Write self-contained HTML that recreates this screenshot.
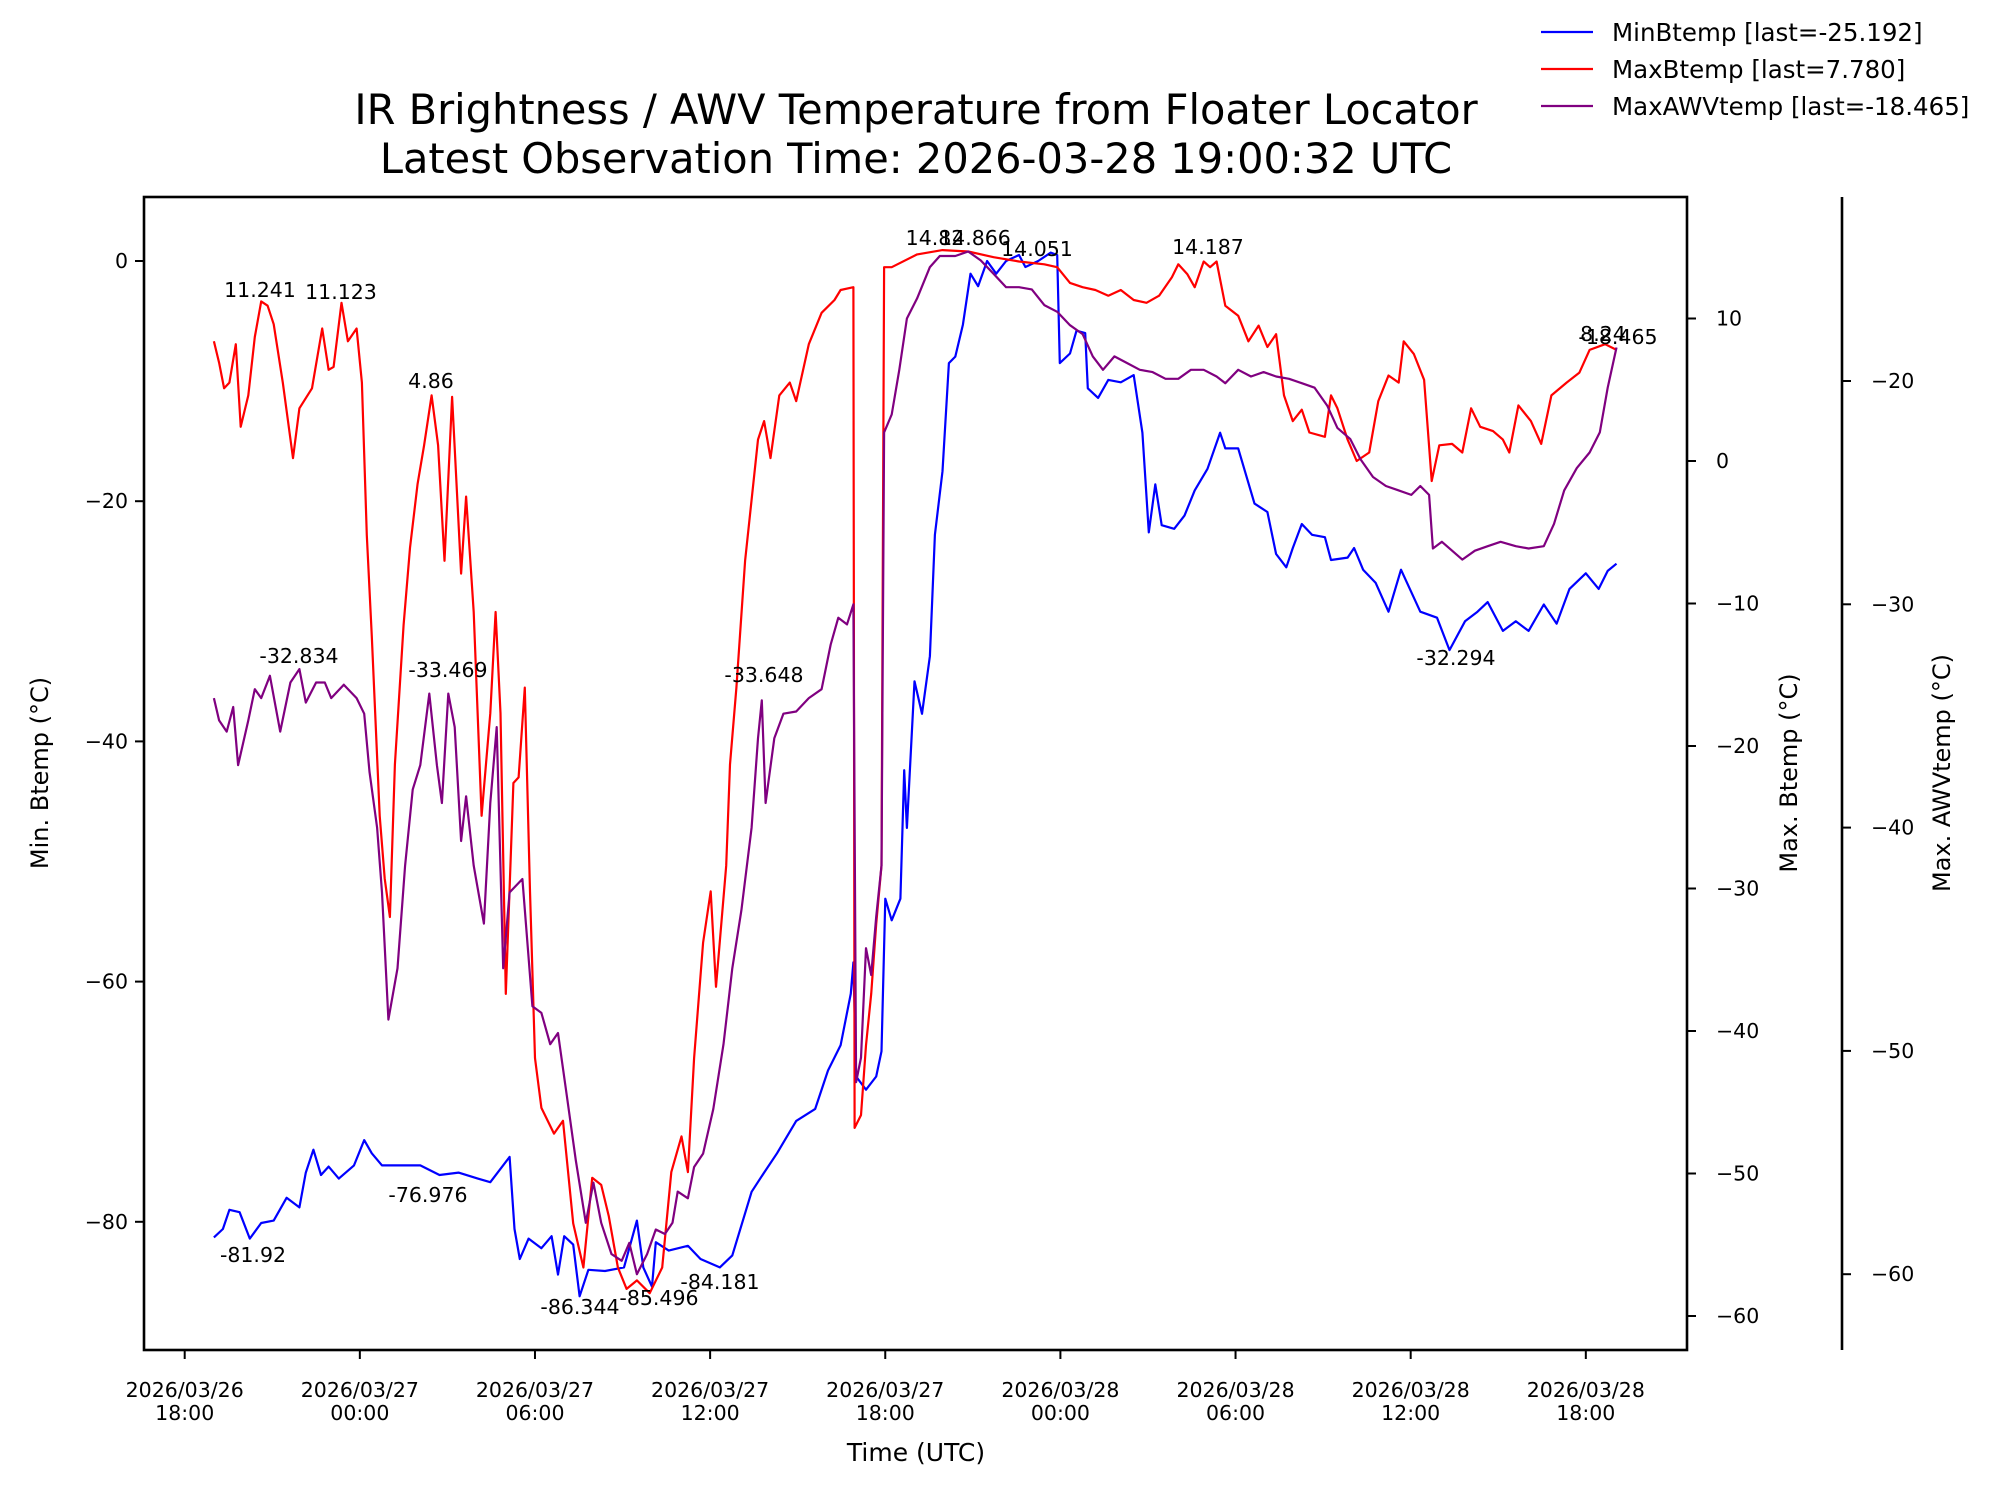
<!DOCTYPE html>
<html><head><meta charset="utf-8"><style>
body{margin:0;background:#fff}
svg{display:block;font-family:"DejaVu Sans","Liberation Sans",sans-serif}
</style></head><body>
<svg id="chart" width="1998" height="1495" viewBox="0 0 1998 1495" xmlns="http://www.w3.org/2000/svg">
<rect width="1998" height="1495" fill="#fff"/>
<text x="916" y="124" font-size="41.5" text-anchor="middle">IR Brightness / AWV Temperature from Floater Locator</text>
<text x="916" y="173" font-size="41.5" text-anchor="middle">Latest Observation Time: 2026-03-28 19:00:32 UTC</text>
<g id="plot"></g>
</svg>
<script>
// hours since 2026-03-26 18:00 UTC
const minHours=[1.0,1.31,1.53,1.88,2.23,2.62,3.05,3.49,3.93,4.15,4.41,4.67,4.93,5.28,5.8,6.15,6.41,6.76,7.42,8.07,8.73,9.38,10.04,10.47,11.13,11.3,11.48,11.78,12.22,12.57,12.79,13.0,13.31,13.53,13.83,14.4,15.05,15.49,15.71,16.01,16.14,16.58,17.24,17.67,18.33,18.76,19.42,19.85,20.29,20.95,21.6,22.04,22.47,22.82,22.91,23.0,23.34,23.69,23.87,24.0,24.22,24.52,24.65,24.74,25.0,25.26,25.53,25.7,25.96,26.18,26.4,26.66,26.92,27.18,27.49,27.8,28.14,28.58,28.8,29.24,29.67,29.89,29.98,30.33,30.55,30.85,30.94,31.29,31.64,32.07,32.51,32.81,33.03,33.25,33.47,33.9,34.25,34.6,35.04,35.47,35.65,36.09,36.65,37.09,37.39,37.74,37.96,38.27,38.62,39.06,39.27,39.84,40.06,40.37,40.8,41.24,41.67,42.33,42.9,43.33,43.86,44.29,44.64,45.16,45.6,46.04,46.56,47.0,47.44,48.0,48.44,48.75,49.05];
const minValues=[-81.3,-80.6,-79.0,-79.2,-81.4,-80.1,-79.9,-78.0,-78.8,-75.9,-74.0,-76.1,-75.4,-76.4,-75.3,-73.2,-74.3,-75.3,-75.3,-75.3,-76.1,-75.9,-76.4,-76.7,-74.6,-80.6,-83.1,-81.4,-82.2,-81.2,-84.4,-81.2,-81.9,-86.2,-84.0,-84.1,-83.8,-79.9,-83.8,-85.4,-81.7,-82.4,-82.0,-83.1,-83.8,-82.8,-77.5,-75.9,-74.3,-71.6,-70.6,-67.4,-65.3,-61.0,-58.4,-67.9,-69.0,-67.9,-65.8,-53.1,-54.9,-53.1,-42.4,-47.2,-35.0,-37.7,-32.9,-22.8,-17.5,-8.5,-7.96,-5.3,-1.06,-2.1,0,-1.06,0,0.5,-0.5,0,0.7,0.5,-8.5,-7.7,-5.8,-6.0,-10.6,-11.4,-9.9,-10.1,-9.5,-14.3,-22.6,-18.6,-22.0,-22.3,-21.2,-19.1,-17.3,-14.3,-15.6,-15.6,-20.2,-20.9,-24.4,-25.5,-23.9,-21.9,-22.8,-23.0,-24.9,-24.7,-23.9,-25.7,-26.8,-29.2,-25.7,-29.2,-29.7,-32.4,-30.0,-29.2,-28.4,-30.8,-30.0,-30.8,-28.6,-30.2,-27.3,-26.0,-27.3,-25.8,-25.2];
const maxHours=[1.0,1.18,1.35,1.53,1.75,1.92,2.18,2.4,2.62,2.84,3.05,3.36,3.71,3.93,4.36,4.71,4.93,5.1,5.37,5.59,5.89,6.07,6.24,6.41,6.68,6.85,7.03,7.2,7.5,7.72,7.98,8.2,8.46,8.68,8.9,9.16,9.47,9.64,9.9,10.17,10.47,10.65,10.82,11.0,11.26,11.44,11.65,11.83,12.0,12.22,12.65,12.96,13.31,13.66,13.96,14.27,14.53,14.84,15.14,15.49,15.93,16.36,16.67,17.02,17.24,17.45,17.76,18.02,18.2,18.55,18.68,18.9,19.2,19.64,19.85,20.07,20.37,20.73,20.95,21.38,21.82,22.26,22.47,22.91,22.95,23.17,23.34,23.52,23.69,23.87,23.96,24.22,25.09,25.96,26.84,27.71,28.58,29.45,29.89,30.33,30.76,31.2,31.64,32.07,32.51,32.95,33.38,33.82,34.04,34.35,34.6,34.91,35.13,35.35,35.65,36.09,36.44,36.79,37.09,37.39,37.66,37.96,38.27,38.53,39.06,39.27,39.49,39.84,40.15,40.58,40.89,41.24,41.59,41.76,42.11,42.46,42.72,42.98,43.42,43.77,44.07,44.38,44.82,45.16,45.38,45.69,46.12,46.47,46.82,47.34,47.78,48.13,48.66,49.05];
const maxValues=[8.4,6.9,5.1,5.5,8.2,2.4,4.6,8.7,11.2,10.9,9.6,5.5,0.2,3.7,5.1,9.3,6.4,6.6,11.1,8.4,9.3,5.5,-5.2,-12.3,-24.9,-29.3,-32.0,-21.3,-11.5,-6.1,-1.6,1.1,4.6,1.1,-7.0,4.5,-7.9,-2.5,-10.6,-24.9,-17.7,-10.6,-17.7,-37.4,-22.6,-22.2,-15.9,-30.2,-41.9,-45.4,-47.2,-46.3,-53.5,-56.6,-50.3,-50.8,-53.0,-56.6,-58.1,-57.5,-58.4,-56.6,-49.9,-47.4,-49.9,-41.9,-33.8,-30.2,-36.9,-28.4,-21.3,-15.9,-7.0,1.5,2.8,0.2,4.6,5.5,4.2,8.2,10.4,11.3,12.0,12.2,-46.8,-45.9,-41.0,-37.4,-32.5,-28.4,13.6,13.6,14.5,14.8,14.7,14.3,14.0,13.8,13.6,12.5,12.2,12.0,11.6,12.0,11.3,11.1,11.6,12.9,13.8,13.1,12.2,14.0,13.6,14.0,10.9,10.2,8.4,9.5,8.0,8.9,4.6,2.8,3.6,2.0,1.7,4.6,3.7,1.5,0,0.6,4.2,6.0,5.5,8.4,7.5,5.7,-1.4,1.1,1.2,0.6,3.7,2.4,2.1,1.5,0.6,3.9,2.8,1.2,4.6,5.5,6.2,7.8,8.2,7.8];
const awvHours=[1.0,1.18,1.44,1.66,1.83,2.18,2.4,2.62,2.92,3.27,3.62,3.93,4.15,4.5,4.8,5.02,5.45,5.89,6.15,6.33,6.59,6.76,6.98,7.29,7.55,7.81,8.07,8.38,8.64,8.81,9.03,9.25,9.47,9.64,9.9,10.25,10.47,10.69,10.91,11.13,11.57,11.91,12.22,12.52,12.79,13.09,13.4,13.74,14.0,14.27,14.62,14.97,15.23,15.49,15.84,16.14,16.45,16.71,16.89,17.24,17.45,17.76,18.11,18.46,18.76,19.07,19.42,19.64,19.77,19.9,20.2,20.51,20.95,21.38,21.82,22.13,22.39,22.69,22.91,23.0,23.17,23.34,23.52,23.69,23.87,23.96,24.22,24.48,24.74,25.09,25.53,25.87,26.4,26.84,27.27,27.71,28.14,28.58,29.02,29.45,29.89,30.33,30.76,31.11,31.46,31.85,32.29,32.72,33.16,33.6,34.04,34.47,34.91,35.35,35.65,36.09,36.53,36.96,37.39,37.83,38.27,38.71,39.14,39.49,39.93,40.28,40.71,41.15,41.59,42.02,42.33,42.63,42.76,43.07,43.42,43.77,44.2,44.64,45.08,45.6,46.04,46.56,46.91,47.26,47.69,48.13,48.48,48.75,49.05];
const awvValues=[-34.2,-35.2,-35.7,-34.6,-37.2,-35.2,-33.8,-34.2,-33.2,-35.7,-33.5,-32.9,-34.4,-33.5,-33.5,-34.2,-33.6,-34.2,-34.9,-37.5,-40.0,-42.9,-48.6,-46.3,-41.7,-38.3,-37.2,-34.0,-37.2,-38.9,-34.0,-35.5,-40.6,-38.6,-41.7,-44.3,-38.9,-35.5,-46.3,-42.9,-42.3,-48.0,-48.3,-49.7,-49.2,-52.0,-54.9,-57.7,-55.9,-57.7,-59.1,-59.4,-58.6,-60.0,-59.1,-58.0,-58.2,-57.7,-56.3,-56.6,-55.2,-54.6,-52.6,-49.7,-46.3,-43.7,-40.0,-36.0,-34.3,-38.9,-36.0,-34.9,-34.8,-34.2,-33.8,-31.8,-30.6,-30.9,-30.0,-51.4,-50.3,-45.4,-46.6,-44.0,-41.7,-22.3,-21.5,-19.5,-17.2,-16.3,-14.9,-14.4,-14.4,-14.2,-14.6,-15.2,-15.8,-15.8,-15.9,-16.6,-16.9,-17.5,-17.9,-18.9,-19.5,-18.9,-19.2,-19.5,-19.6,-19.9,-19.9,-19.5,-19.5,-19.8,-20.1,-19.5,-19.8,-19.6,-19.8,-19.9,-20.1,-20.3,-21.1,-22.1,-22.6,-23.5,-24.3,-24.7,-24.9,-25.1,-24.7,-25.1,-27.5,-27.2,-27.6,-28.0,-27.6,-27.4,-27.2,-27.4,-27.5,-27.4,-26.4,-24.9,-23.9,-23.2,-22.3,-20.3,-18.5];
const xTickHours=[0,6,12,18,24,30,36,42,48];
const xTickDates=["2026/03/26","2026/03/27","2026/03/27","2026/03/27","2026/03/27","2026/03/28","2026/03/28","2026/03/28","2026/03/28"];
const xTickTimes=["18:00","00:00","06:00","12:00","18:00","00:00","06:00","12:00","18:00"];
const leftTicks=[0,-20,-40,-60,-80];
const maxTicks=[10,0,-10,-20,-30,-40,-50,-60];
const awvTicks=[-20,-30,-40,-50,-60];
const annoText=["11.241","11.123","4.86","-32.834","-33.469","-33.648","-76.976","-81.92","-86.344","-85.496","-84.181","14.82","14.866","14.051","14.187","-32.294","8.24","-18.465"];
const annoX=[260,341,431,299,448,764,428,253,580,659,720,935,975,1037,1208,1456,1603,1618];
const annoY=[297,299,388,663,677,682,1202,1262,1314,1305,1289,245,245,256,254,665,341,344];

const L=144,R=1687,T=197,B=1350;
const NS="http://www.w3.org/2000/svg";
const g=document.getElementById('plot');
function xs(h){return 184.7+h*29.19;}
function yMin(v){return 261-v*12.01;}
function yMax(v){return 318.5-(v-10)*14.25;}
function yAwv(v){return 381-(v+20)*22.33;}
function mk(tag,attrs,parent){const e=document.createElementNS(NS,tag);for(const k in attrs)e.setAttribute(k,attrs[k]);(parent||g).appendChild(e);return e;}
function line(x1,y1,x2,y2,w){return mk('line',{x1,y1,x2,y2,stroke:'#000','stroke-width':w||2});}
function txt(x,y,s,size,anchor,extra){const t=mk('text',Object.assign({x,y,'font-size':size,'text-anchor':anchor||'middle'},extra||{}));t.textContent=s;return t;}

const clip=mk('clipPath',{id:'clipA'});mk('rect',{x:L,y:T,width:R-L,height:B-T},clip);

function series(hs,vs,yf,color,name){
  const d=hs.map((h,i)=>(i?'L':'M')+xs(h).toFixed(1)+' '+yf(vs[i]).toFixed(1)).join(' ');
  const p=mk('path',{d,fill:'none',stroke:color,'stroke-width':2.2,'stroke-linejoin':'round','clip-path':'url(#clipA)'});
  
  
}
series(minHours,minValues,yMin,'#0000ff','min-btemp-line');
series(maxHours,maxValues,yMax,'#ff0000','max-btemp-line');
series(awvHours,awvValues,yAwv,'#800080','max-awv-temp-line');

annoText.forEach((s,i)=>{const t=txt(annoX[i],annoY[i],s,20.5,'middle');

});

const fr=mk('rect',{x:L,y:T,width:R-L,height:B-T,fill:'none',stroke:'#000','stroke-width':2.6});


line(1842,T,1842,B,2.6);

xTickHours.forEach((h,i)=>{const x=xs(h);line(x,B,x,B+9,2);
const t1=txt(x,1397,xTickDates[i],20.5);


txt(x,1420,xTickTimes[i],20.5);});
const xl=txt(916,1461,'Time (UTC)',25);



leftTicks.forEach(v=>{const y=yMin(v);line(L-9,y,L,y,2);
const t=txt(L-16,y+7,(v<0?'\u2212':'')+Math.abs(v),20.5,'end');

});
maxTicks.forEach(v=>{const y=yMax(v);line(R,y,R+9,y,2);
const t=txt(R+29,y+7,(v<0?'\u2212':'')+Math.abs(v),20.5,'start');

});
awvTicks.forEach(v=>{const y=yAwv(v);line(1842,y,1851,y,2);
const t=txt(1871,y+7,(v<0?'\u2212':'')+Math.abs(v),20.5,'start');

});

const yl1=txt(0,0,'Min. Btemp (\u00b0C)',24,'middle',{transform:'translate(48,773) rotate(-90)'});


const yl2=txt(0,0,'Max. Btemp (\u00b0C)',24,'middle',{transform:'translate(1797,773) rotate(-90)'});


const yl3=txt(0,0,'Max. AWVtemp (\u00b0C)',24,'middle',{transform:'translate(1950,773) rotate(-90)'});



const legLabels=['MinBtemp [last=-25.192]','MaxBtemp [last=7.780]','MaxAWVtemp [last=-18.465]'];
const legColors=['#0000ff','#ff0000','#800080'];
legLabels.forEach((s,i)=>{const y=32+i*37;
const ln=mk('line',{x1:1541,y1:y,x2:1593,y2:y,stroke:legColors[i],'stroke-width':2.2});


const t=txt(1612,y+9,s,24.5,'start');

});
</script>
</body></html>
